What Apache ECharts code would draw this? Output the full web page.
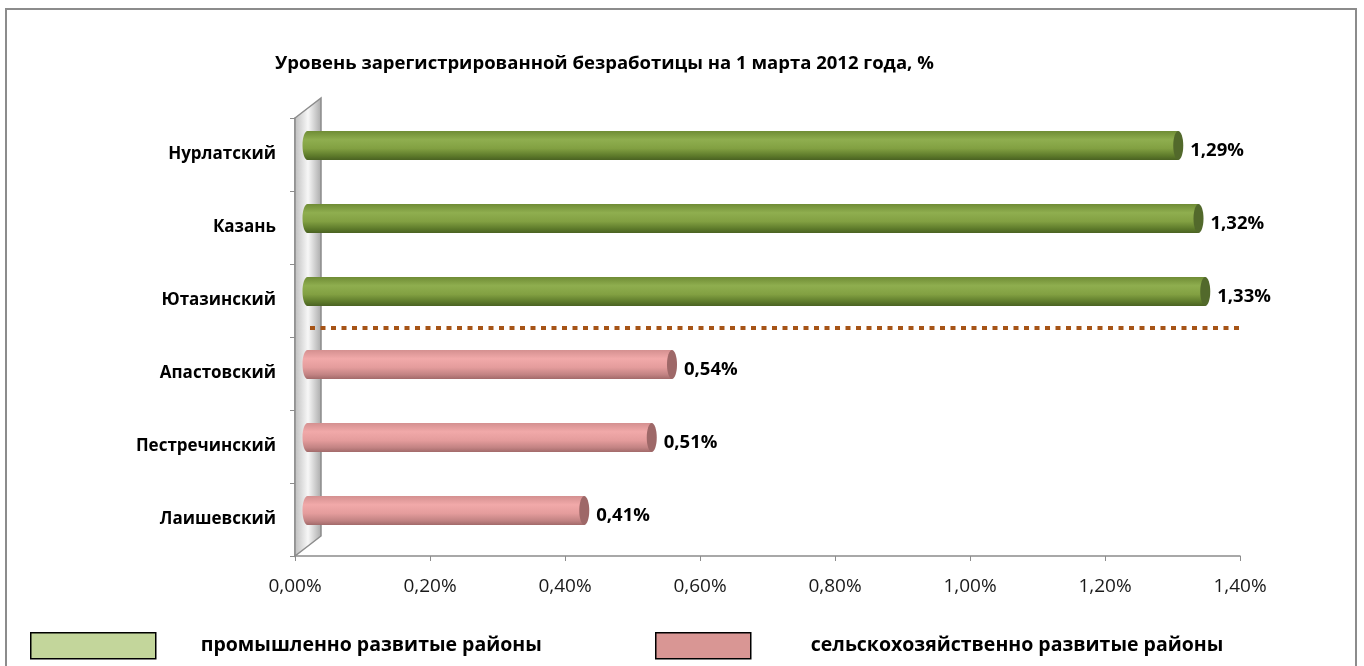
<!DOCTYPE html>
<html>
<head>
<meta charset="utf-8">
<title>Уровень зарегистрированной безработицы</title>
<script src="https://cdn.jsdelivr.net/npm/echarts@6/dist/echarts.min.js"></script>
<style>
  html, body { margin: 0; padding: 0; background: #fff; }
  #box { width: 1364px; height: 666px; }
</style>
</head>
<body>
<div id="box"></div>
<script>
// data (top to bottom)
const industrialDistricts = ["Нурлатский", "Казань", "Ютазинский"];
const industrialValues = [1.29, 1.32, 1.33];
const agriDistricts = ["Апастовский", "Пестречинский", "Лаишевский"];
const agriValues = [0.54, 0.51, 0.41];
const categories = industrialDistricts.concat(agriDistricts);

const industrialName = "промышленно развитые районы";
const agriName = "сельскохозяйственно развитые районы";
const FONT = "'Open Sans', 'Noto Sans', sans-serif";

function pct(v) {
  return v.toFixed(2).replace(".", ",") + "%";
}

// cylinder bar drawn at the back plane of the 3d chart
function cylinder(colors, capColor) {
  return function (params, api) {
    const v = api.value(0);
    const c = api.value(1);
    const p0 = api.coord([0, c]);
    const p1 = api.coord([v, c]);
    const dx = 12.5, dy = -9, h = 29, rx = 5;
    const cy = p0[1] + dy;
    const grad = new echarts.graphic.LinearGradient(0, 0, 0, 1, colors);
    return {
      type: "group",
      children: [
        { type: "ellipse", shape: { cx: p0[0] + dx, cy: cy, rx: rx, ry: h / 2 }, style: { fill: grad } },
        { type: "rect", shape: { x: p0[0] + dx, y: cy - h / 2, width: p1[0] - p0[0], height: h }, style: { fill: grad } },
        { type: "ellipse", shape: { cx: p1[0] + dx, cy: cy, rx: rx, ry: h / 2 }, style: { fill: capColor } },
        {
          type: "text",
          style: {
            text: pct(v), x: p1[0] + dx + rx + 7, y: cy + 5,
            verticalAlign: "middle", fill: "#000",
            font: "bold 18.5px " + FONT
          }
        }
      ]
    };
  };
}

const greenStops = [
  { offset: 0, color: "#6f8c35" },
  { offset: 0.3, color: "#8fae4f" },
  { offset: 0.6, color: "#82a042" },
  { offset: 0.85, color: "#5e7b2b" },
  { offset: 1, color: "#4a6222" }
];
const pinkStops = [
  { offset: 0, color: "#d49090" },
  { offset: 0.3, color: "#f1a9a9" },
  { offset: 0.6, color: "#e49c9c" },
  { offset: 0.85, color: "#c28383" },
  { offset: 1, color: "#a26a6a" }
];

const chart = echarts.init(document.getElementById("box"));
const option = {
  animation: false,
  title: {
    text: "Уровень зарегистрированной безработицы на 1 марта 2012 года, %",
    left: 270,
    top: 49,
    textStyle: { fontFamily: FONT, fontSize: 18.5, fontWeight: "bold", color: "#000" }
  },
  grid: { left: 295, right: 124, top: 118, bottom: 110, containLabel: false },
  xAxis: {
    type: "value",
    min: 0,
    max: 1.4,
    interval: 0.2,
    axisLine: { show: true, lineStyle: { color: "#8c8c8c", width: 1.5 } },
    axisTick: { show: true, length: 5, lineStyle: { color: "#8c8c8c" } },
    splitLine: { show: false },
    axisLabel: {
      margin: 21,
      color: "#1a1a1a",
      fontFamily: FONT,
      fontSize: 19,
      formatter: function (v) { return pct(v); }
    }
  },
  yAxis: {
    type: "category",
    inverse: true,
    data: categories,
    axisLine: { show: true, lineStyle: { color: "#8c8c8c", width: 1.5 } },
    axisTick: { show: true, length: 5, lineStyle: { color: "#8c8c8c" } },
    axisLabel: {
      margin: 19,
      color: "#000",
      fontFamily: FONT,
      fontSize: 17,
      fontWeight: "bold"
    }
  },
  legend: [
    {
      data: [{ name: industrialName, itemStyle: { color: "#c3d69b", borderColor: "#000", borderWidth: 1.5 } }],
      left: 30, top: 632, padding: 0, icon: "rect", itemWidth: 125, itemHeight: 26,
      textStyle: { fontFamily: FONT, fontSize: 19.5, fontWeight: "bold", color: "#000", padding: [6, 0, 0, 40] }
    },
    {
      data: [{ name: agriName, itemStyle: { color: "#d99694", borderColor: "#000", borderWidth: 1.5 } }],
      left: 655, top: 632, padding: 0, icon: "rect", itemWidth: 95, itemHeight: 26,
      textStyle: { fontFamily: FONT, fontSize: 19.5, fontWeight: "bold", color: "#000", padding: [6, 0, 0, 55] }
    }
  ],
  series: [
    {
      name: industrialName,
      type: "custom",
      renderItem: cylinder(greenStops, "#52692b"),
      itemStyle: { color: "#c3d69b" },
      encode: { x: 0, y: 1 },
      data: industrialValues.map(function (v, i) { return [v, industrialDistricts[i]]; }),
      z: 3
    },
    {
      name: agriName,
      type: "custom",
      renderItem: cylinder(pinkStops, "#9e6868"),
      itemStyle: { color: "#d99694" },
      encode: { x: 0, y: 1 },
      data: agriValues.map(function (v, i) { return [v, agriDistricts[i]]; }),
      z: 3
    }
  ]
};
chart.setOption(option);

// decorations: side wall, separator between the two groups, outer frame
const xa = chart.convertToPixel({ xAxisIndex: 0 }, 0);
const xb = chart.convertToPixel({ xAxisIndex: 0 }, 1.4);
const yTop = chart.convertToPixel({ yAxisIndex: 0 }, categories[0]) - 36.5;
const yBot = chart.convertToPixel({ yAxisIndex: 0 }, categories[5]) + 36.5;
const ySep = (chart.convertToPixel({ yAxisIndex: 0 }, categories[2]) +
  chart.convertToPixel({ yAxisIndex: 0 }, categories[3])) / 2 - 9;

chart.setOption({
  graphic: [
    {
      type: "rect", z: -10, silent: true,
      shape: { x: 6, y: 9, width: 1350, height: 700 },
      style: { fill: null, stroke: "#8c8c8c", lineWidth: 2 }
    },
    {
      type: "polygon", z: 1, silent: true,
      shape: { points: [[xa, yTop], [xa + 26, yTop - 20], [xa + 26, yBot - 20], [xa, yBot]] },
      style: {
        fill: new echarts.graphic.LinearGradient(0, 0, 1, 0, [
          { offset: 0, color: "#bdbdbd" },
          { offset: 0.5, color: "#f7f7f7" },
          { offset: 1, color: "#a8a8a8" }
        ]),
        stroke: "#8c8c8c", lineWidth: 1.5
      }
    },
    {
      type: "line", z: 2, silent: true,
      shape: { x1: xa + 15, y1: ySep, x2: xb, y2: ySep },
      style: { stroke: "#a65417", lineWidth: 4, lineDash: [5, 5.5] }
    }
  ]
});
</script>
</body>
</html>
